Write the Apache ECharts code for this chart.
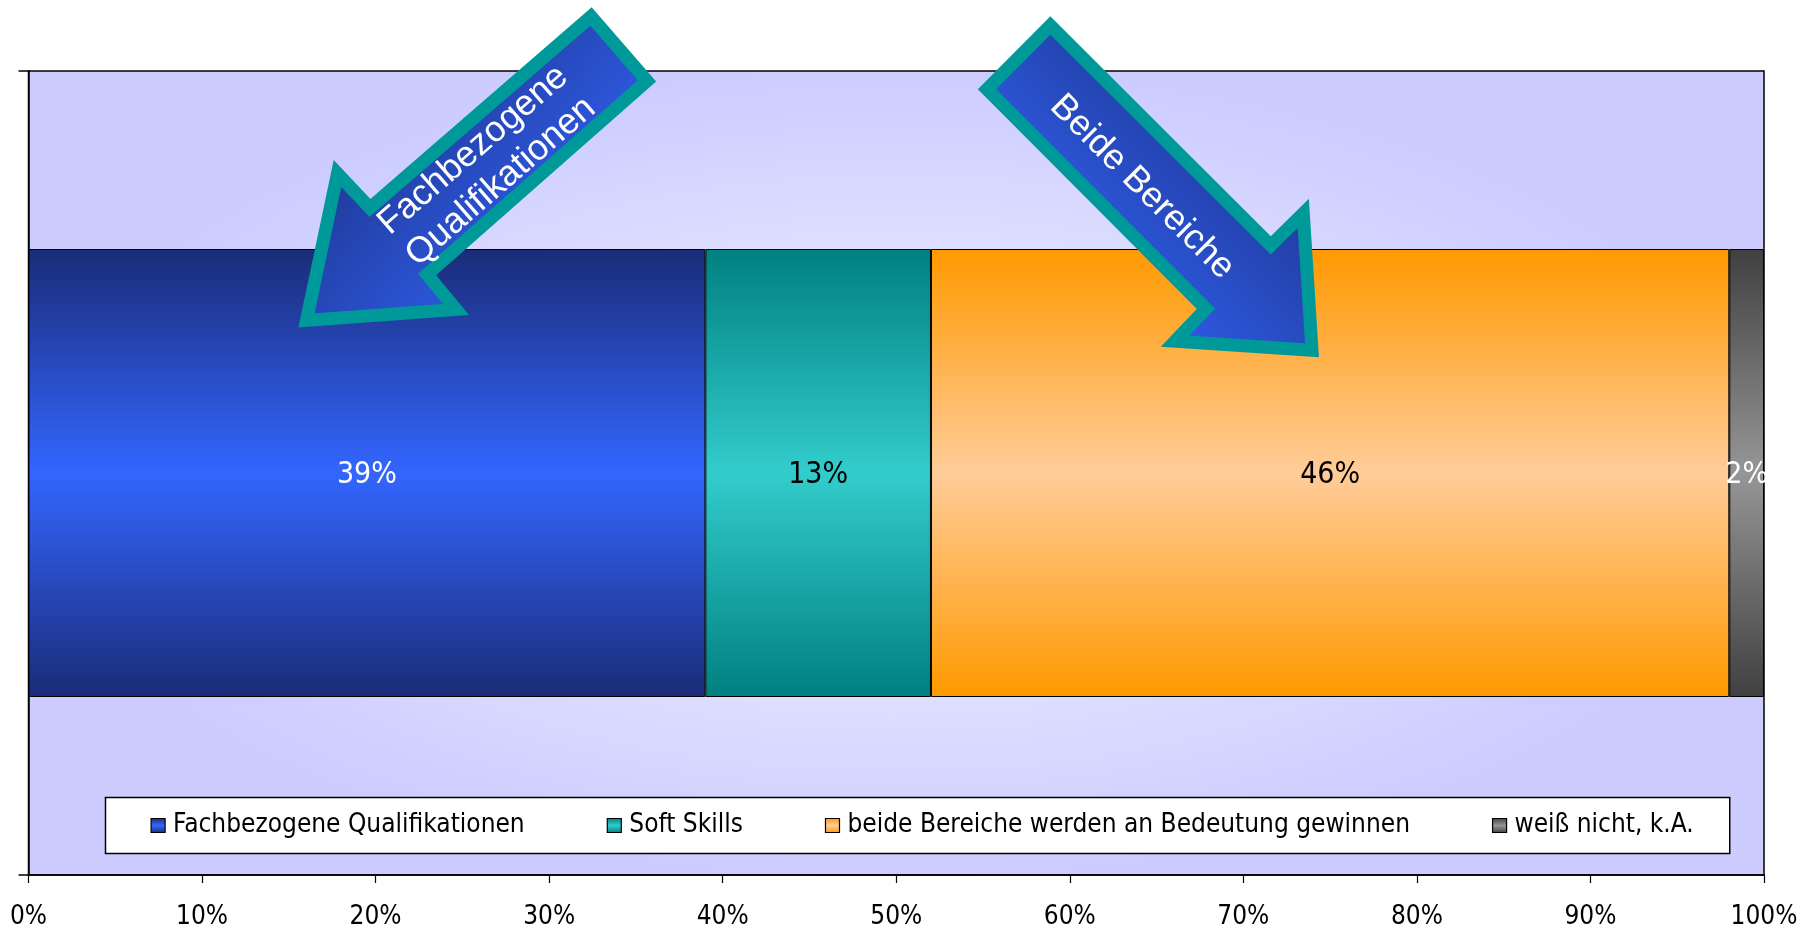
<!DOCTYPE html>
<html>
<head>
<meta charset="utf-8">
<script src="https://cdn.jsdelivr.net/npm/echarts@6/dist/echarts.min.js"></script>
<style>
  html, body { margin: 0; padding: 0; background: #ffffff; }
  #chart { width: 1818px; height: 930px; }
</style>
</head>
<body>
<div id="chart"></div>
<script>
// Survey answer shares (percent), one stacked bar
const categories = ['Gesamt'];
const seriesNames = [
  'Fachbezogene Qualifikationen',
  'Soft Skills',
  'beide Bereiche werden an Bedeutung gewinnen',
  'weiß nicht, k.A.'
];
const shareFachbezogen = [39];
const shareSoftSkills = [13];
const shareBeide = [46];
const shareWeissNicht = [2];
const xTickLabels = ['0%', '10%', '20%', '30%', '40%', '50%', '60%', '70%', '80%', '90%', '100%'];

// Callout texts on the arrows
const arrowTextLeft = 'Fachbezogene\nQualifikationen';
const arrowTextRight = 'Beide Bereiche';

const FONT = '"DejaVu Sans Condensed", "DejaVu Sans", sans-serif';
const ARROW_FONT = '"Liberation Sans", Arial, sans-serif';

// Plot area
const G = { left: 28.5, top: 71, right: 54, bottom: 54 };
const W = 1818, H = 930;
const gw = W - G.left - G.right, gh = H - G.top - G.bottom;

function barGradient(edge, mid) {
  return {
    type: 'linear', x: 0, y: 0, x2: 0, y2: 1,
    colorStops: [
      { offset: 0, color: edge },
      { offset: 0.5, color: mid },
      { offset: 1, color: edge }
    ]
  };
}

const palette = [
  { fill: barGradient('#1a2c78', '#3366ff'), label: '#ffffff' },
  { fill: barGradient('#008080', '#33cccc'), label: '#000000' },
  { fill: barGradient('#ff9900', '#ffcc99'), label: '#000000' },
  { fill: barGradient('#404040', '#969696'), label: '#ffffff' }
];
const values = [shareFachbezogen, shareSoftSkills, shareBeide, shareWeissNicht];

const series = seriesNames.map((name, i) => ({
  name: name,
  type: 'bar',
  stack: 'total',
  data: values[i],
  barWidth: 448,
  itemStyle: { color: palette[i].fill, borderColor: '#000000', borderWidth: 1 },
  label: {
    show: true,
    position: 'inside',
    offset: [0, 2],
    formatter: '{c}%',
    color: palette[i].label,
    fontSize: 30,
    fontFamily: FONT
  },
  emphasis: { disabled: true }
}));

const arrowFill1 = {
  type: 'linear', x: 0, y: 0, x2: 1, y2: 1,
  colorStops: [{ offset: 0.15, color: '#1c3184' }, { offset: 0.85, color: '#3366ff' }]
};
const arrowFill2 = {
  type: 'linear', x: 0, y: 1, x2: 1, y2: 0,
  colorStops: [{ offset: 0.15, color: '#3366ff' }, { offset: 0.85, color: '#1c3184' }]
};

const chart = echarts.init(document.getElementById('chart'), null, { renderer: 'canvas' });

chart.setOption({
  animation: false,
  backgroundColor: '#ffffff',
  grid: {
    left: G.left, top: G.top, right: G.right, bottom: G.bottom,
    show: true, borderColor: '#000000', borderWidth: 1.5, backgroundColor: 'transparent'
  },
  legend: {
    data: seriesNames,
    left: 105.5,
    top: 797.5,
    orient: 'horizontal',
    backgroundColor: '#ffffff',
    borderColor: '#000000',
    borderWidth: 1.5,
    padding: [14, 36, 14, 45],
    itemGap: 82,
    itemWidth: 14,
    itemHeight: 14,
    icon: 'rect',
    itemStyle: { borderColor: '#000000', borderWidth: 1.2 },
    textStyle: { color: '#000000', fontSize: 26, fontFamily: FONT, lineHeight: 26, padding: [2, 0, 0, 3] }
  },
  xAxis: {
    type: 'value',
    min: 0, max: 100, interval: 10,
    axisLine: { show: true, lineStyle: { color: '#000000', width: 1.5 } },
    axisTick: { show: true, length: 8, lineStyle: { color: '#000000', width: 1.2 } },
    splitLine: { show: false },
    axisLabel: {
      color: '#000000', fontSize: 26, fontFamily: FONT, margin: 29,
      formatter: (v) => xTickLabels[Math.round(v / 10)]
    }
  },
  yAxis: {
    type: 'category',
    data: categories,
    axisLine: { show: true, lineStyle: { color: '#000000', width: 1.5 } },
    axisTick: { show: true, length: 10, lineStyle: { color: '#000000', width: 1.5 } },
    axisLabel: { show: false },
    splitLine: { show: false }
  },
  series: series,
  graphic: [
    {
      // soft lavender plot background, light in the centre
      type: 'rect',
      z: -10,
      silent: true,
      x: G.left, y: G.top,
      scaleX: gw / gh,
      shape: { x: 0, y: 0, width: gh, height: gh },
      style: {
        fill: {
          type: 'radial', x: 0.5, y: 0.5, r: 0.5,
          colorStops: [
            { offset: 0, color: '#f6f6ff' },
            { offset: 1, color: '#ccccff' }
          ]
        }
      }
    },
    {
      type: 'polygon',
      z: 100,
      silent: true,
      shape: {
        points: [[306.5, 320.5], [337.5, 173.5], [370, 208], [591, 16.5], [647, 81], [427, 274.5], [456, 309.5]]
      },
      style: { fill: arrowFill1, stroke: '#009999', lineWidth: 13, lineJoin: 'miter' }
    },
    {
      type: 'text',
      z: 101,
      silent: true,
      x: 487, y: 166,
      rotation: 41 * Math.PI / 180,
      style: {
        text: arrowTextLeft,
        fill: '#ffffff',
        font: '36px ' + ARROW_FONT,
        align: 'center',
        verticalAlign: 'middle',
        lineHeight: 42
      }
    },
    {
      type: 'polygon',
      z: 100,
      silent: true,
      shape: {
        points: [[1050.3, 25.5], [987, 89.3], [1206, 308.8], [1175, 341.3], [1312, 350.3], [1303.3, 213.3], [1270.7, 245.3]]
      },
      style: { fill: arrowFill2, stroke: '#009999', lineWidth: 13, lineJoin: 'miter' }
    },
    {
      type: 'text',
      z: 101,
      silent: true,
      x: 1142, y: 187,
      rotation: -Math.PI / 4,
      style: {
        text: arrowTextRight,
        fill: '#ffffff',
        font: '36px ' + ARROW_FONT,
        align: 'center',
        verticalAlign: 'middle'
      }
    }
  ]
});
</script>
</body>
</html>
